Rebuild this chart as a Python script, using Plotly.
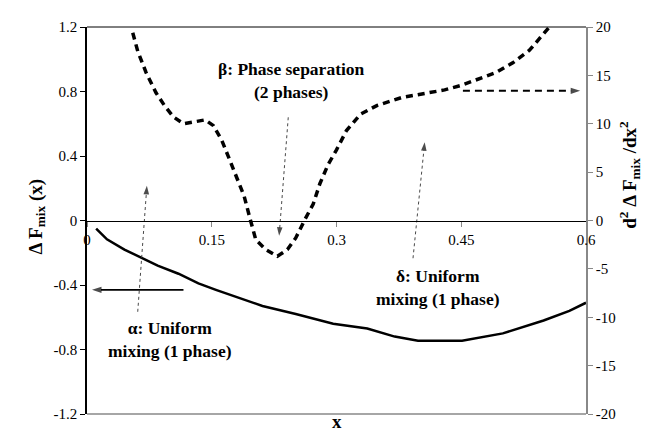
import plotly.graph_objects as go

# Data
x_f = [0.011, 0.024, 0.045, 0.065, 0.085, 0.11, 0.134, 0.155, 0.178, 0.211, 0.251, 0.296,
       0.337, 0.37, 0.398, 0.425, 0.451, 0.50, 0.549, 0.58, 0.6]
f_mix = [-0.05, -0.117, -0.18, -0.23, -0.28, -0.33, -0.39, -0.43, -0.47, -0.53, -0.58, -0.64,
         -0.67, -0.72, -0.745, -0.745, -0.745, -0.70, -0.62, -0.56, -0.51]

x_d = [0.055, 0.061, 0.071, 0.083, 0.093, 0.104, 0.116, 0.13, 0.142, 0.152, 0.162, 0.17,
       0.18, 0.189, 0.196, 0.203, 0.215, 0.229, 0.241, 0.251, 0.262, 0.272, 0.28, 0.29,
       0.30, 0.312, 0.329, 0.349, 0.378, 0.41, 0.43, 0.451, 0.471, 0.492, 0.512, 0.532,
       0.553, 0.556]
d2f = [19.4, 17.5, 15.3, 13.2, 11.9, 10.7, 10.0, 10.2, 10.4, 9.8, 8.3, 6.6,
       4.5, 2.5, 0.2, -2.0, -3.0, -3.7, -3.0, -1.8, 0.1, 1.7, 3.8, 5.8,
       7.3, 9.3, 11.0, 11.9, 12.7, 13.2, 13.5, 14.0, 14.6, 15.3, 16.3, 17.6,
       19.7, 20.0]

x_ticks = [0, 0.15, 0.3, 0.45, 0.6]
x_ticklabels = ["0", "0.15", "0.3", "0.45", "0.6"]
y1_ticks = [-1.2, -0.8, -0.4, 0, 0.4, 0.8, 1.2]
y1_ticklabels = ["-1.2", "-0.8", "-0.4", "0", "0.4", "0.8", "1.2"]
y2_ticks = [-20, -15, -10, -5, 0, 5, 10, 15, 20]
y2_ticklabels = ["-20", "-15", "-10", "-5", "0", "5", "10", "15", "20"]

# annotation texts and positions (data coords, left axis)
label_texts = ["β: Phase separation<br>(2 phases)", "α: Uniform<br>mixing (1 phase)",
               "δ: Uniform<br>mixing (1 phase)"]
label_x = [0.246, 0.100, 0.422]
label_y = [0.867, -0.738, -0.418]

# dotted pointer arrows on left axis: (x_tail, y_tail, x_head, y_head)
dotted_arrows = [(0.061, -0.566, 0.072, 0.215),
                 (0.392, -0.234, 0.406, 0.485),
                 (0.242, 0.64, 0.231, -0.095)]
# solid arrow (left axis) and dashed arrow (right axis)
solid_arrow = (0.116, -0.43, 0.006, -0.43)
dashed_arrow = (0.452, 13.4, 0.593, 13.4)

FONT = "Liberation Serif"

fig = go.Figure()
fig.add_trace(go.Scatter(x=x_f, y=f_mix, mode="lines",
                         line=dict(color="black", width=2.5), yaxis="y"))
fig.add_trace(go.Scatter(x=x_d, y=d2f, mode="lines",
                         line=dict(color="black", width=3.5, dash="7px,5px"), yaxis="y2"))


def arrow_trace(a, yaxis, width, dash, size, color="black"):
    xt, yt, xh, yh = a
    return go.Scatter(x=[xt, xh], y=[yt, yh], mode="lines+markers", yaxis=yaxis,
                      line=dict(color=color, width=width, dash=dash),
                      marker=dict(symbol=["circle", "arrow"], size=[0, size], color="black",
                                  angleref="previous", line=dict(width=0)),
                      hoverinfo="skip")


for a in dotted_arrows:
    fig.add_trace(arrow_trace(a, "y", 0.9, "dot", 9, color="#333333"))
fig.add_trace(arrow_trace(solid_arrow, "y", 1.6, "solid", 10))
fig.add_trace(arrow_trace(dashed_arrow, "y2", 2, "7px,5px", 10))

shapes = []
annotations = []
for t, xx, yy in zip(label_texts, label_x, label_y):
    annotations.append(dict(x=xx, y=yy, xref="x", yref="y", text="<b>" + t + "</b>",
                            showarrow=False, font=dict(family=FONT, size=17.5, color="black"),
                            align="center"))

# frame lines
shapes.append(dict(type="line", xref="paper", yref="paper", x0=0, x1=1, y0=1, y1=1,
                   line=dict(color="black", width=1)))
shapes.append(dict(type="line", xref="paper", yref="paper", x0=0, x1=1, y0=0, y1=0,
                   line=dict(color="#888888", width=1.5)))

# axis titles
annotations.append(dict(xref="paper", yref="paper", x=0.5, y=0, yshift=-20, text="<b>x</b>",
                        showarrow=False, font=dict(family=FONT, size=19, color="black")))
annotations.append(dict(xref="paper", yref="paper", x=0, xshift=-65, y=0.5, yshift=4,
                        text="<b>Δ F<sub>mix</sub> (x)</b>", textangle=-90, showarrow=False,
                        font=dict(family=FONT, size=19, color="black")))
annotations.append(dict(xref="paper", yref="paper", x=1, xshift=59, y=0.617,
                        text="<b>d<sup>2</sup> Δ F<sub>mix</sub> /dx<sup>2</sup></b>", textangle=-90,
                        showarrow=False, font=dict(family=FONT, size=19, color="black")))

fig.update_layout(
    width=654, height=425,
    margin=dict(l=79, r=76, t=11, b=17),
    paper_bgcolor="white", plot_bgcolor="white",
    showlegend=False,
    font=dict(family=FONT, size=15, color="black"),
    xaxis=dict(range=[0, 0.6], tickvals=x_ticks, ticktext=x_ticklabels,
               anchor="free", position=0.4987, showline=True, linecolor="black", linewidth=1,
               ticks="outside", ticklen=5, tickcolor="#888888", showgrid=False, zeroline=False,
               fixedrange=True),
    yaxis=dict(range=[-1.2, 1.2], tickvals=y1_ticks, ticktext=y1_ticklabels,
               showline=True, linecolor="black", linewidth=1.5, ticks="outside", ticklen=5,
               tickcolor="black", showgrid=False, zeroline=False),
    yaxis2=dict(range=[-20, 20], tickvals=y2_ticks, ticktext=y2_ticklabels,
                overlaying="y", side="right", showline=True, linecolor="#888888", linewidth=1.5,
                ticks="outside", ticklen=5, tickcolor="#888888", showgrid=False, zeroline=False),
    shapes=shapes,
    annotations=annotations,
)

fig.write_html("out.html")
